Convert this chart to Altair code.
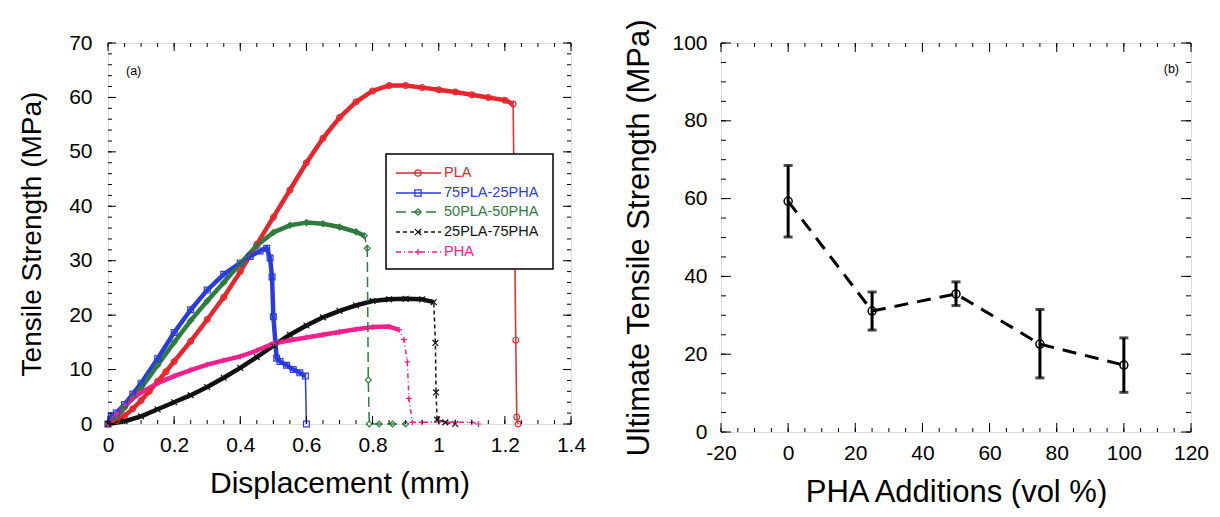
import altair as alt
import pandas as pd

FONT = "Liberation Sans"

# ---------------- Panel (a) data: tensile curves ----------------
SERIES = ["PLA", "75PLA-25PHA", "50PLA-50PHA", "25PLA-75PHA", "PHA"]
COLORS = ["#e8262c", "#2a3be0", "#2e7d3e", "#111111", "#f2208c"]
SHAPES = ["circle", "square", "diamond", "M-1,-1L1,1M-1,1L1,-1", "M-1,0L1,0M0,-1L0,1"]
DASHES = [[1, 0], [1, 0], [10, 5], [4, 3], [5, 3, 1, 3]]

PLA_X = [0, 0.025, 0.05, 0.075, 0.1, 0.125, 0.15, 0.175, 0.2, 0.25, 0.3, 0.35, 0.4, 0.45, 0.5,
         0.55, 0.6, 0.65, 0.7, 0.75, 0.8, 0.85, 0.9, 0.95, 1.0, 1.05, 1.1, 1.15, 1.2, 1.225,
         1.233, 1.236, 1.24]
PLA_Y = [0, 0.6, 1.5, 2.8, 4.3, 6.0, 7.8, 9.6, 11.5, 15.2, 19.2, 23.3, 28.0, 33.0, 38.0,
         43.0, 48.0, 52.5, 56.3, 59.2, 61.2, 62.2, 62.2, 61.8, 61.4, 61.0, 60.5, 60.0, 59.5, 58.8,
         15.4, 1.3, 0]

B75_X = [0, 0.01, 0.025, 0.05, 0.075, 0.1, 0.15, 0.2, 0.25, 0.3, 0.35, 0.4, 0.43, 0.46, 0.48,
         0.49, 0.496, 0.5, 0.51, 0.52, 0.54, 0.56, 0.58, 0.597, 0.6]
B75_Y = [0, 1.5, 2.0, 3.6, 5.5, 7.5, 12.0, 16.8, 21.0, 24.6, 27.5, 29.6, 30.8, 31.8, 32.3,
         30.5, 27.0, 19.7, 12.1, 11.5, 10.8, 10.0, 9.4, 8.8, 0]

B50_X = [0, 0.025, 0.05, 0.075, 0.1, 0.15, 0.2, 0.25, 0.3, 0.35, 0.4, 0.45, 0.5, 0.55, 0.6,
         0.65, 0.7, 0.75, 0.775, 0.784, 0.787, 0.79, 0.82, 0.86, 0.9]
B50_Y = [0, 1.3, 3.0, 4.8, 6.6, 10.8, 15.0, 19.0, 22.6, 26.0, 29.5, 32.8, 35.2, 36.5, 37.0,
         36.8, 36.2, 35.3, 34.6, 32.3, 8.1, 0, 0, 0, 0]

B25_X = [0, 0.05, 0.1, 0.15, 0.2, 0.25, 0.3, 0.35, 0.4, 0.45, 0.5, 0.55, 0.6, 0.65, 0.7, 0.75,
         0.8, 0.85, 0.9, 0.95, 0.985, 0.99, 0.992, 0.995, 1.02, 1.05]
B25_Y = [0, 0.5, 1.4, 2.7, 4.0, 5.3, 6.8, 8.5, 10.3, 12.3, 14.4, 16.4, 18.1, 19.6, 20.8, 21.8,
         22.6, 22.9, 23.0, 22.9, 22.4, 14.9, 5.8, 0.8, 0.3, 0]

PHA_X = [0, 0.025, 0.05, 0.075, 0.1, 0.15, 0.2, 0.25, 0.3, 0.35, 0.4, 0.45, 0.5, 0.55, 0.6,
         0.65, 0.7, 0.75, 0.8, 0.85, 0.88, 0.895, 0.905, 0.91, 0.92, 0.95, 1.0, 1.05, 1.1, 1.12]
PHA_Y = [0, 1.8, 3.4, 4.7, 5.8, 7.5, 8.8, 9.9, 10.9, 11.7, 12.4, 13.5, 14.8, 15.4, 15.9,
         16.4, 16.9, 17.4, 17.8, 17.9, 17.3, 15.5, 11.4, 4.7, 0.3, 0.3, 0.4, 0.3, 0.3, 0]

# last displacement of the continuous (dense-marker) part of each curve, before fracture
FRACTURE_X = [1.225, 0.597, 0.775, 0.985, 0.88]

A_X_TICKS = [0, 0.2, 0.4, 0.6, 0.8, 1.0, 1.2, 1.4]
A_Y_TICKS = [0, 10, 20, 30, 40, 50, 60, 70]

# ---------------- Panel (b) data ----------------
B_X = [0, 25, 50, 75, 100]
B_Y = [59.3, 31.1, 35.5, 22.6, 17.2]
B_LO = [50.1, 26.2, 32.5, 13.9, 10.2]
B_HI = [68.5, 36.0, 38.6, 31.5, 24.2]
B_X_TICKS = [-20, 0, 20, 40, 60, 80, 100, 120]
B_Y_TICKS = [0, 20, 40, 60, 80, 100]

# ---------------- build tables ----------------
rows = []
for name, xs, ys, fx in zip(SERIES, [PLA_X, B75_X, B50_X, B25_X, PHA_X],
                            [PLA_Y, B75_Y, B50_Y, B25_Y, PHA_Y], FRACTURE_X):
    for i, (xv, yv) in enumerate(zip(xs, ys)):
        rows.append({"series": name, "x": xv, "y": yv, "i": i, "band": xv <= fx})
curves = pd.DataFrame(rows)
band_df = curves[curves["band"]]

bdf = pd.DataFrame({"x": B_X, "y": B_Y, "lo": B_LO, "hi": B_HI})

WA, HA = 463, 381
WB, HB = 470, 389

color_enc = alt.Color("series:N", scale=alt.Scale(domain=SERIES, range=COLORS), legend=None)
dash_enc = alt.StrokeDash("series:N", scale=alt.Scale(domain=SERIES, range=DASHES), legend=None)
shape_enc = alt.Shape("series:N", scale=alt.Scale(domain=SERIES, range=SHAPES), legend=None)


def mk_axis(values, title, lpad, tpad, tsize):
    return alt.Axis(values=values, labelExpr="'' + datum.value", title=title, ticks=False,
                    tickSize=0, domain=False, grid=False, labelFontSize=21, labelFont=FONT,
                    labelColor="black", labelPadding=lpad, labelFlush=False,
                    labelOverlap=False, titleFont=FONT, titleFontSize=tsize,
                    titleFontWeight="normal", titleColor="black", titlePadding=tpad)


def frame_ticks(values, axis, scale, ax, W, H, length):
    df = pd.DataFrame({"v": values})
    base = alt.Chart(df).mark_rule(color="black", strokeWidth=1)
    if axis == "x":
        enc = alt.X("v:Q", scale=scale, axis=ax)
        return [base.encode(x=enc, y=alt.value(H), y2=alt.value(H - length)),
                base.encode(x=enc, y=alt.value(0), y2=alt.value(length))]
    enc = alt.Y("v:Q", scale=scale, axis=ax)
    return [base.encode(y=enc, x=alt.value(0), x2=alt.value(length)),
            base.encode(y=enc, x=alt.value(W), x2=alt.value(W - length))]


one = pd.DataFrame({"a": [0]})

# ---------------- panel (a) ----------------
xa = alt.Scale(domain=[0, 1.4], nice=False, zero=False)
ya = alt.Scale(domain=[0, 70], nice=False)
ax_xa = mk_axis(A_X_TICKS, "Displacement (mm)", 10, 13, 30)
ax_ya = mk_axis(A_Y_TICKS, "Tensile Strength (MPa)", 16, 22, 28)

band = alt.Chart(band_df).mark_line(strokeWidth=4.5, strokeJoin="round").encode(
    x=alt.X("x:Q", scale=xa, axis=ax_xa), y=alt.Y("y:Q", scale=ya, axis=ax_ya),
    color=color_enc, detail="series:N", order="i:Q")
thin = alt.Chart(curves).mark_line(strokeWidth=1.5).encode(
    x=alt.X("x:Q", scale=xa, axis=ax_xa), y=alt.Y("y:Q", scale=ya, axis=ax_ya),
    color=color_enc, strokeDash=dash_enc, detail="series:N", order="i:Q")
pts = alt.Chart(curves).mark_point(filled=False, size=34, strokeWidth=1.2, opacity=1).encode(
    x=alt.X("x:Q", scale=xa, axis=ax_xa), y=alt.Y("y:Q", scale=ya, axis=ax_ya),
    color=color_enc, shape=shape_enc)

a_layers = [band, thin, pts]
a_minor_x = [round(k * 0.05, 2) for k in range(0, 29)]
a_minor_y = list(range(0, 71, 2))
a_layers += frame_ticks(a_minor_x, "x", xa, ax_xa, WA, HA, 4)
a_layers += frame_ticks(A_X_TICKS, "x", xa, ax_xa, WA, HA, 8)
a_layers += frame_ticks(a_minor_y, "y", ya, ax_ya, WA, HA, 4)
a_layers += frame_ticks(A_Y_TICKS, "y", ya, ax_ya, WA, HA, 8)

# legend box
LEG_Y = [130, 150, 169, 189, 209]
a_layers.append(alt.Chart(one).mark_rect(fill="white", stroke="black", strokeWidth=1.5).encode(
    x=alt.value(278), x2=alt.value(445), y=alt.value(111), y2=alt.value(226)))
for name, col, shp, dsh, ly in zip(SERIES, COLORS, SHAPES, DASHES, LEG_Y):
    a_layers.append(alt.Chart(one).mark_rule(color=col, strokeWidth=1.3, strokeDash=dsh).encode(
        x=alt.value(288), x2=alt.value(333), y=alt.value(ly)))
    a_layers.append(alt.Chart(one).mark_point(filled=False, color=col, shape=shp, size=40,
                                              strokeWidth=1.3, opacity=1).encode(
        x=alt.value(310), y=alt.value(ly)))
    a_layers.append(alt.Chart(one).mark_text(text=name, color=col, font=FONT, fontSize=14.5,
                                             align="left", baseline="middle").encode(
        x=alt.value(336), y=alt.value(ly)))
a_layers.append(alt.Chart(one).mark_text(text="(a)", font=FONT, fontSize=12.5, align="left",
                                         baseline="middle", color="black").encode(
    x=alt.value(18), y=alt.value(28)))

panel_a = alt.layer(*a_layers).properties(width=WA, height=HA)

# ---------------- panel (b) ----------------
xb = alt.Scale(domain=[-20, 120], nice=False, zero=False)
yb = alt.Scale(domain=[0, 100], nice=False)
ax_xb = mk_axis(B_X_TICKS, "PHA Additions (vol %)", 10, 14, 31)
ax_yb = mk_axis(B_Y_TICKS, "Ultimate Tensile Strength (MPa)", 14, 16, 31)

b_line = alt.Chart(bdf).mark_line(color="black", strokeWidth=3, strokeDash=[14, 9]).encode(
    x=alt.X("x:Q", scale=xb, axis=ax_xb), y=alt.Y("y:Q", scale=yb, axis=ax_yb))
b_err = alt.Chart(bdf).mark_rule(color="black", strokeWidth=3).encode(
    x=alt.X("x:Q", scale=xb, axis=ax_xb), y=alt.Y("lo:Q", scale=yb, axis=ax_yb), y2="hi:Q")
b_cap_hi = alt.Chart(bdf).mark_tick(color="black", thickness=3, size=9, orient="horizontal").encode(
    x=alt.X("x:Q", scale=xb, axis=ax_xb), y=alt.Y("hi:Q", scale=yb, axis=ax_yb))
b_cap_lo = alt.Chart(bdf).mark_tick(color="black", thickness=3, size=9, orient="horizontal").encode(
    x=alt.X("x:Q", scale=xb, axis=ax_xb), y=alt.Y("lo:Q", scale=yb, axis=ax_yb))
b_pts = alt.Chart(bdf).mark_point(shape="circle", filled=False, color="black", size=64,
                                  strokeWidth=1.5, opacity=1).encode(
    x=alt.X("x:Q", scale=xb, axis=ax_xb), y=alt.Y("y:Q", scale=yb, axis=ax_yb))

b_layers = [b_line, b_err, b_cap_hi, b_cap_lo, b_pts]
b_minor_x = list(range(-20, 121, 5))
b_minor_y = list(range(0, 101, 5))
b_layers += frame_ticks(b_minor_x, "x", xb, ax_xb, WB, HB, 4)
b_layers += frame_ticks(B_X_TICKS, "x", xb, ax_xb, WB, HB, 9)
b_layers += frame_ticks(b_minor_y, "y", yb, ax_yb, WB, HB, 5)
b_layers += frame_ticks(B_Y_TICKS, "y", yb, ax_yb, WB, HB, 10)
b_layers.append(alt.Chart(one).mark_text(text="(b)", font=FONT, fontSize=12.5, align="right",
                                         baseline="middle", color="black").encode(
    x=alt.value(458), y=alt.value(26)))

panel_b = alt.layer(*b_layers).properties(width=WB, height=HB)

chart = alt.hconcat(panel_a, panel_b, spacing=150, bounds="flush").properties(
    padding={"left": 18, "top": 18, "right": 0, "bottom": 0}
).configure_view(stroke="black", strokeWidth=1.5).configure(background="white")

chart.save("out.html", embed_options={"renderer": "svg", "actions": False})
